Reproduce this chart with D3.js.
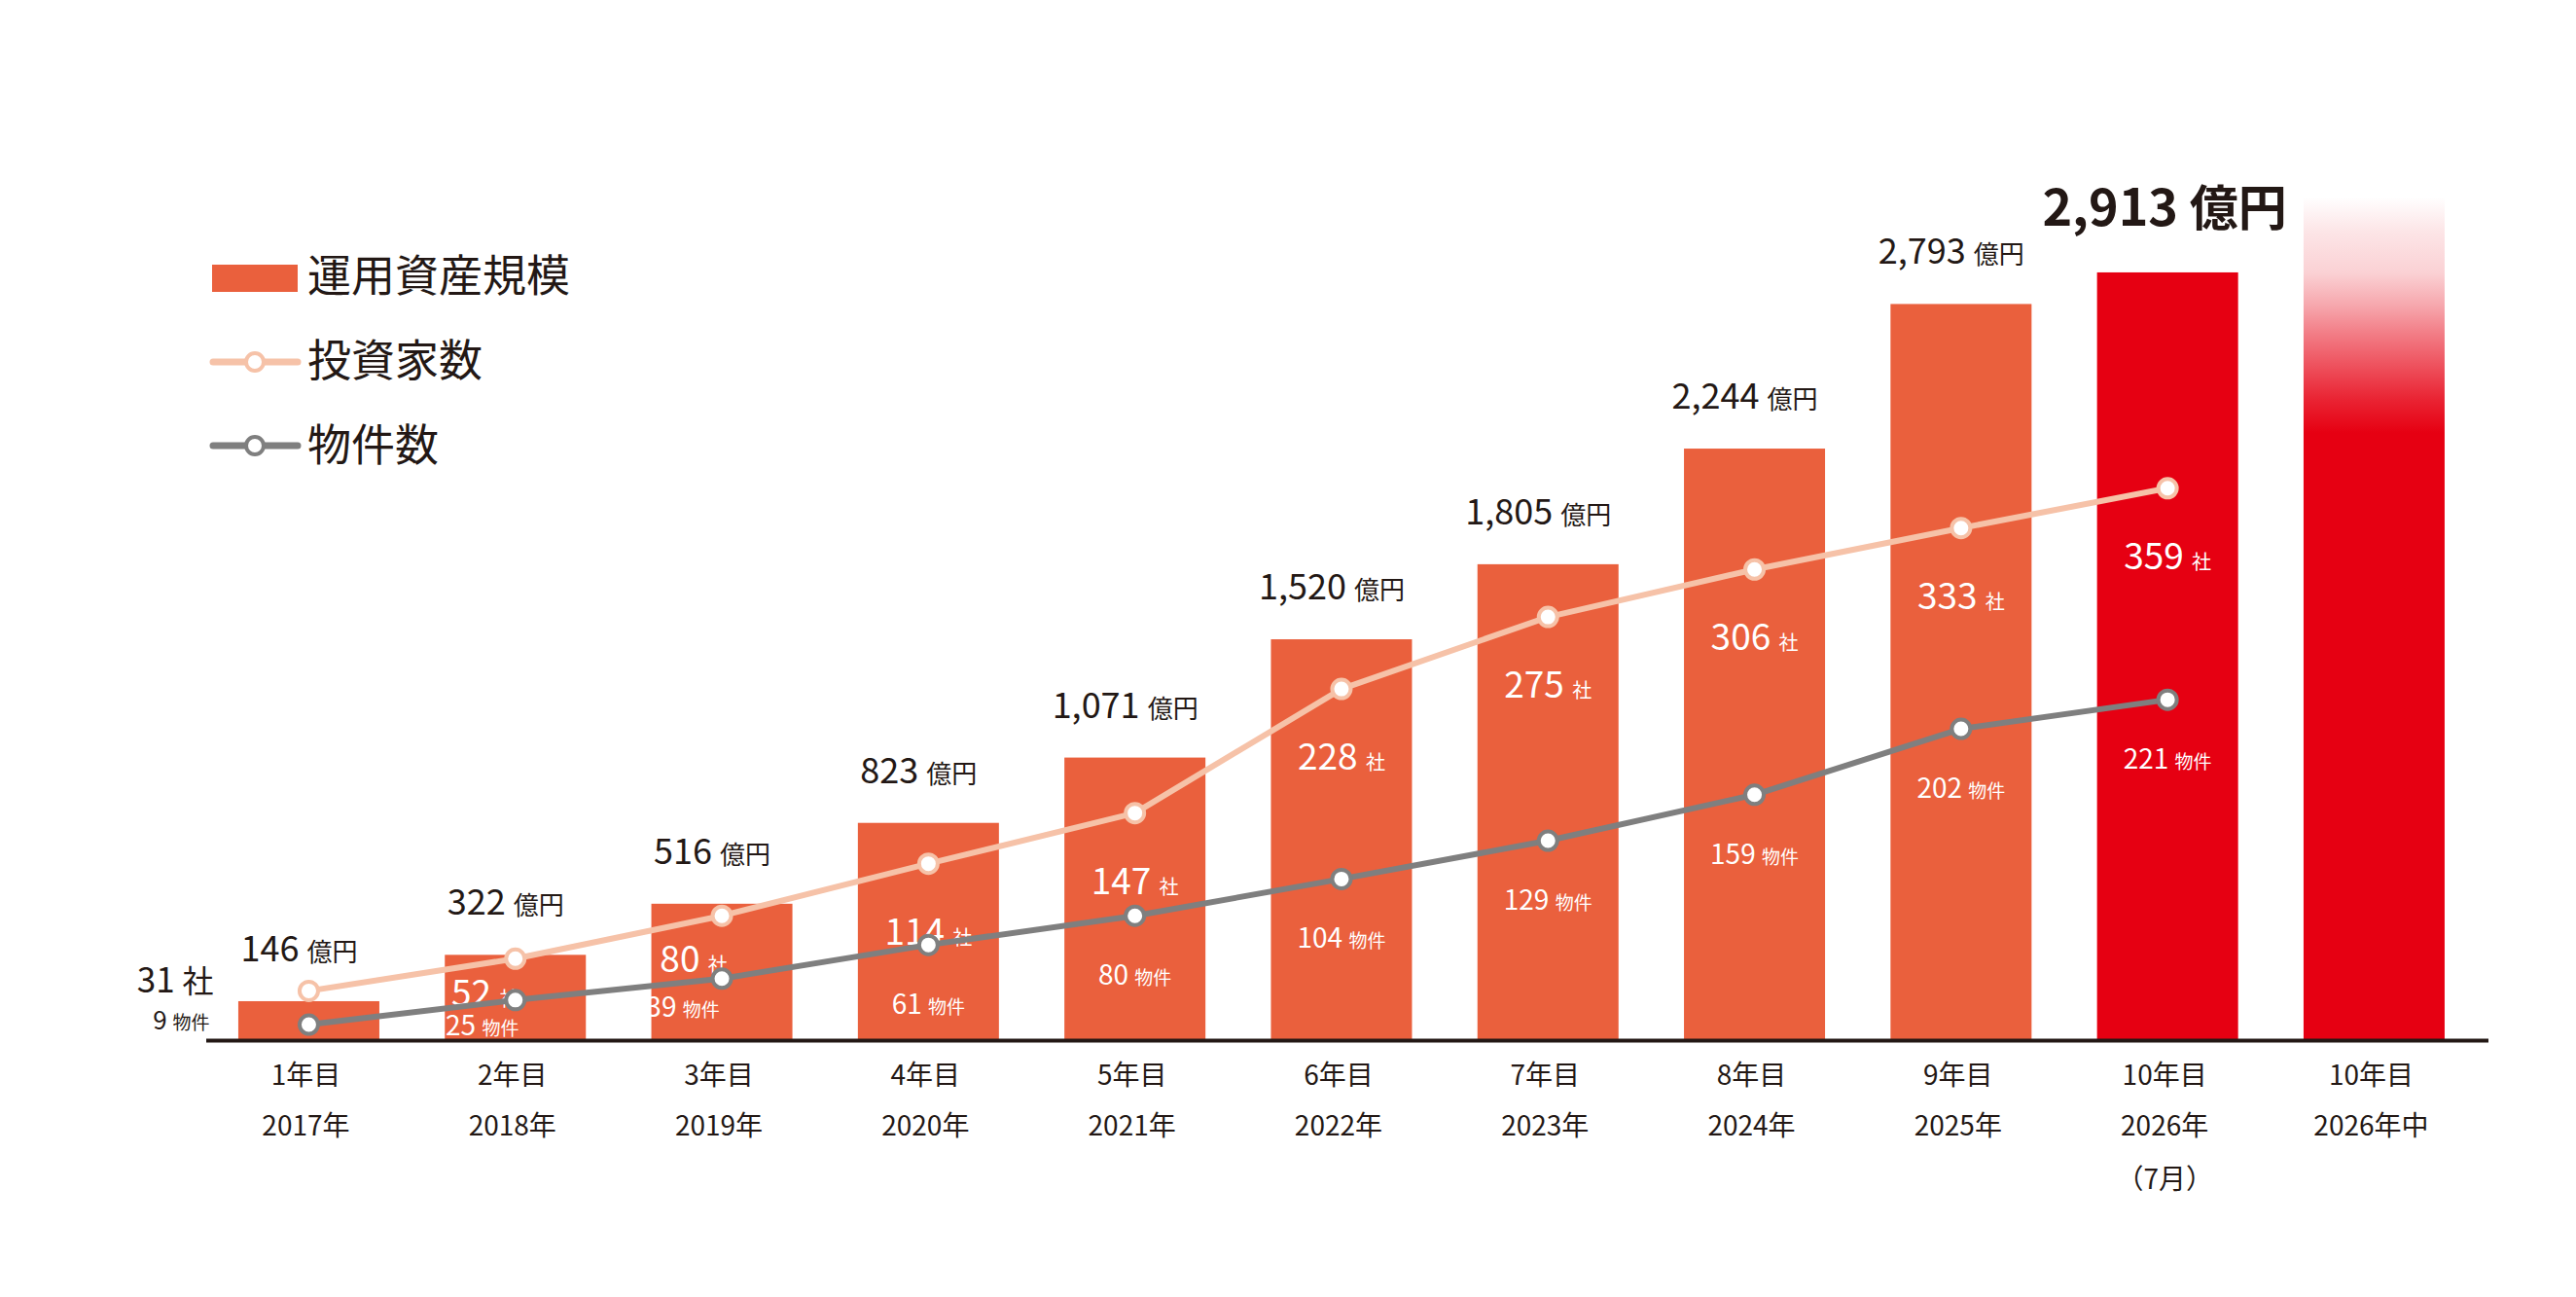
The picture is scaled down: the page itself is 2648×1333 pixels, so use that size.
<!DOCTYPE html>
<meta charset="utf-8">
<style>
  body { margin: 0; background: #fff; }
  svg { display: block; font-family: "Noto Sans CJK JP", "Noto Sans", sans-serif; }
</style>
<body>
<script src="https://d3js.org/d3.v7.min.js"></script>
<script>
  // data
  var yearNo = ["1年目","2年目","3年目","4年目","5年目","6年目","7年目","8年目","9年目","10年目","10年目"];
  var yearLabel = ["2017年","2018年","2019年","2020年","2021年","2022年","2023年","2024年","2025年","2026年","2026年中"];
  var yearNote = ["","","","","","","","","","（7月）",""];
  var assets = [146, 322, 516, 823, 1071, 1520, 1805, 2244, 2793, 2913];   // 億円
  var forecastTop = 3200;                                                 // fading bar, no label
  var investors = [31, 52, 80, 114, 147, 228, 275, 306, 333, 359];       // 社
  var properties = [9, 25, 39, 61, 80, 104, 129, 159, 202, 221];         // 物件

  var width = 2648, height = 1333;
  var baseY = 1068.5;

  var orange = "#ea603d", red = "#e60012", peach = "#f6c2a8", grey = "#7f7f7f", ink = "#231815";

  // hand-placed labels for the first small bars
  var invNudge = {0: {dx: -98, dy: 2, anchor: "end", size: 35, unit: 32, color: ink}, 1: {dx: -31, dy: 49}, 2: {dx: -29, dy: 58}};
  var propNudge = {0: {dx: -102, dy: 5, anchor: "end", size: 26, unit: 19, color: ink}, 1: {dx: -34, dy: 36}, 2: {dx: -40, dy: 39}};

  var svg = d3.select("body").append("svg")
    .attr("width", width)
    .attr("height", height);

  var x = d3.scaleBand()
    .domain(d3.range(yearNo.length))
    .range([211.3, 2546.6])
    .paddingInner(0.317)
    .paddingOuter(0.1585);

  var yAmt = d3.scaleLinear().domain([0, 3000]).range([baseY, 256.4]);
  var yCnt = d3.scaleLinear().domain([0, 400]).range([1067.2, 437.2]);

  var cx = function(i) { return x(i) + x.bandwidth() / 2; };
  var nudge = function(tbl, i, key, dflt) { return tbl[i] && tbl[i][key] !== undefined ? tbl[i][key] : dflt; };

  // gradient for the last bar
  var grad = svg.append("defs").append("linearGradient")
    .attr("id", "fade")
    .attr("x1", 0).attr("x2", 0).attr("y1", 0).attr("y2", 1);
  [[0, 0], [0.04, 0.1], [0.09, 0.18], [0.13, 0.35], [0.16, 0.5], [0.2, 0.68], [0.24, 0.86], [0.28, 1], [1, 1]].forEach(function(s) {
    grad.append("stop").attr("offset", s[0]).attr("stop-color", red).attr("stop-opacity", s[1]);
  });

  // bars
  svg.selectAll("rect.bar")
    .data(assets)
    .enter()
    .append("rect")
    .attr("class", "bar")
    .attr("x", function(d, i) { return x(i); })
    .attr("y", function(d) { return yAmt(d); })
    .attr("width", x.bandwidth())
    .attr("height", function(d) { return baseY - yAmt(d); })
    .attr("fill", function(d, i) { return i == assets.length - 1 ? red : orange; });

  svg.append("rect")
    .attr("x", x(assets.length))
    .attr("y", yAmt(forecastTop))
    .attr("width", x.bandwidth())
    .attr("height", baseY - yAmt(forecastTop))
    .attr("fill", "url(#fade)");

  // asset labels
  svg.selectAll("text.amt")
    .data(assets)
    .enter()
    .append("text")
    .attr("class", "amt")
    .attr("x", function(d, i) { return cx(i) - (i == assets.length - 1 ? 3 : 10); })
    .attr("y", function(d, i) { return yAmt(d) - (i == assets.length - 1 ? 48 : 41); })
    .attr("text-anchor", "middle")
    .attr("fill", ink)
    .attr("font-weight", function(d, i) { return i == assets.length - 1 ? 700 : 400; })
    .attr("font-size", function(d, i) { return i == assets.length - 1 ? "52px" : "36px"; })
    .each(function(d, i) {
      var t = d3.select(this);
      var last = i == assets.length - 1;
      t.append("tspan").text(d3.format(",")(d) + " ");
      t.append("tspan").attr("font-size", last ? "50px" : "26px").text("億円");
    });

  // investor and property labels (drawn under the lines)
  function countLabels(cls, values, tbl, dy, size, unitSize, unit) {
    svg.selectAll("text." + cls)
      .data(values)
      .enter()
      .append("text")
      .attr("class", cls)
      .attr("x", function(d, i) { return cx(i) + nudge(tbl, i, "dx", 0); })
      .attr("y", function(d, i) { return yCnt(d) + nudge(tbl, i, "dy", dy); })
      .attr("text-anchor", function(d, i) { return nudge(tbl, i, "anchor", "middle"); })
      .attr("fill", function(d, i) { return nudge(tbl, i, "color", "#fff"); })
      .attr("font-size", function(d, i) { return nudge(tbl, i, "size", size) + "px"; })
      .each(function(d, i) {
        var t = d3.select(this);
        t.append("tspan").text(d + " ");
        t.append("tspan").attr("font-size", nudge(tbl, i, "unit", unitSize) + "px").text(unit);
      });
  }
  countLabels("inv", investors, invNudge, 83, 37, 20, "社");
  countLabels("prop", properties, propNudge, 71, 28, 19, "物件");

  // lines
  var line = d3.line()
    .x(function(d, i) { return cx(i); })
    .y(function(d) { return yCnt(d); });

  [[investors, peach], [properties, grey]].forEach(function(s) {
    svg.append("path")
      .datum(s[0])
      .attr("d", line)
      .attr("fill", "none")
      .attr("stroke", s[1])
      .attr("stroke-width", 6)
      .attr("stroke-linejoin", "round");
    svg.append("g").selectAll("circle")
      .data(s[0])
      .enter()
      .append("circle")
      .attr("cx", function(d, i) { return cx(i); })
      .attr("cy", function(d) { return yCnt(d); })
      .attr("r", 9.5)
      .attr("fill", "#fff")
      .attr("stroke", s[1])
      .attr("stroke-width", 4);
  });

  // baseline
  svg.append("line")
    .attr("x1", 212).attr("x2", 2558)
    .attr("y1", baseY + 1).attr("y2", baseY + 1)
    .attr("stroke", ink)
    .attr("stroke-width", 4);

  // category labels
  [[yearNo, 1115], [yearLabel, 1167], [yearNote, 1222]].forEach(function(row) {
    svg.append("g").selectAll("text")
      .data(row[0])
      .enter()
      .append("text")
      .attr("x", function(d, i) { return cx(i) - 3; })
      .attr("y", row[1])
      .attr("text-anchor", "middle")
      .attr("fill", ink)
      .attr("font-size", "28px")
      .text(function(d) { return d; });
  });

  // legend
  var legend = svg.append("g");
  legend.append("rect")
    .attr("x", 218).attr("y", 272)
    .attr("width", 88).attr("height", 28)
    .attr("fill", orange);
  [[372, peach], [458, grey]].forEach(function(l) {
    legend.append("line")
      .attr("x1", 219).attr("x2", 306)
      .attr("y1", l[0]).attr("y2", l[0])
      .attr("stroke", l[1]).attr("stroke-width", 7).attr("stroke-linecap", "round");
    legend.append("circle")
      .attr("cx", 262).attr("cy", l[0]).attr("r", 9)
      .attr("fill", "#fff").attr("stroke", l[1]).attr("stroke-width", 4);
  });
  legend.selectAll("text")
    .data(["運用資産規模", "投資家数", "物件数"])
    .enter()
    .append("text")
    .attr("x", 316)
    .attr("y", function(d, i) { return 300 + i * 87; })
    .attr("fill", ink)
    .attr("font-size", "45px")
    .text(function(d) { return d; });
</script>
</body>
